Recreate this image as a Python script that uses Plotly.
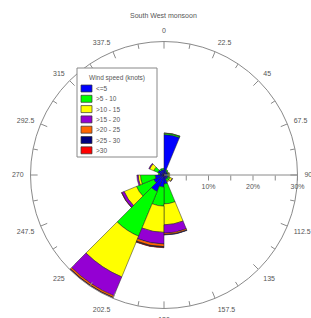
import plotly.graph_objects as go

# ---- data ----
title_text = "South West monsoon"
legend_title = "Wind speed (knots)"
speed_bins = ["<=5", ">5 - 10", ">10 - 15", ">15 - 20", ">20 - 25", ">25 - 30", ">30"]
bin_colors = ["#0000FF", "#00FF00", "#FFFF00", "#9400D3", "#FF6600", "#000080", "#FF0000"]
directions = [11.25 + 22.5 * k for k in range(16)]
# percentage frequency per direction, one list per speed class
pct_le5    = [9.1, 1.0, 0.8, 0.8, 0.8, 1.0, 1.0, 2.0, 2.7, 4.0, 2.5, 2.0, 1.0, 1.5, 1.2, 1.2]
pct_5_10   = [0.3, 0.3, 0.2, 0.3, 0.3, 0.5, 0.5, 4.5, 4.3, 10.9, 4.2, 3.3, 0.3, 1.0, 0.3, 0.3]
pct_10_15  = [0.05, 0.0, 0.1, 0.2, 0.2, 0.5, 0.2, 4.7, 5.9, 9.9, 3.0, 0.5, 0.0, 1.0, 0.0, 0.0]
pct_15_20  = [0.0, 0.0, 0.0, 0.0, 0.0, 0.1, 0.0, 1.9, 2.6, 4.6, 0.6, 0.3, 0.0, 0.2, 0.0, 0.0]
pct_20_25  = [0.0, 0.0, 0.0, 0.0, 0.0, 0.0, 0.0, 0.3, 0.6, 0.4, 0.05, 0.0, 0.0, 0.0, 0.0, 0.0]
pct_25_30  = [0.0, 0.0, 0.0, 0.0, 0.0, 0.0, 0.0, 0.1, 0.15, 0.1, 0.0, 0.0, 0.0, 0.0, 0.0, 0.0]
pct_gt30   = [0.0, 0.0, 0.0, 0.0, 0.0, 0.0, 0.0, 0.0, 0.1, 0.05, 0.0, 0.0, 0.0, 0.0, 0.0, 0.0]
series = [pct_le5, pct_5_10, pct_10_15, pct_15_20, pct_20_25, pct_25_30, pct_gt30]
angle_labels = ["0", "22.5", "45", "67.5", "90", "112.5", "135", "157.5",
                "180", "202.5", "225", "247.5", "270", "292.5", "315", "337.5"]
radial_ticks = [5, 10, 15, 20, 25, 30]
radial_labels = ["", "10%", "", "20%", "", "30%"]
r_max = 30

W, H = 311, 318
FONT = "Liberation Sans, Arial, sans-serif"
GRAY = "#8a8a8a"
TXT = "#555555"

fig = go.Figure()
for name, vals, col in zip(speed_bins, series, bin_colors):
    fig.add_trace(go.Barpolar(
        r=vals, theta=directions, width=[22.5] * len(directions), name=name,
        marker=dict(color=col, line=dict(color="#222222", width=0.5)),
        showlegend=False,
    ))

# inward angular ticks: long at labelled angles, short in between
tr, tt = [], []
for k in range(32):
    a = 11.25 * k
    ln = 1.6 if k % 2 == 0 else 1.1
    tr += [r_max - ln, r_max, None]
    tt += [a, a, None]
fig.add_trace(go.Scatterpolar(r=tr, theta=tt, mode="lines",
                              line=dict(color=GRAY, width=1),
                              showlegend=False, hoverinfo="skip"))

cx, cy, R = 164, 175, 133.5
fig.update_layout(
    width=W, height=H,
    margin=dict(l=0, r=0, t=0, b=0),
    paper_bgcolor="white",
    showlegend=False,
    font=dict(family=FONT, size=7, color=TXT),
    polar=dict(
        domain=dict(x=[(cx - R) / W, (cx + R) / W],
                    y=[(H - cy - R) / H, (H - cy + R) / H]),
        bgcolor="white",
        barmode="stack",
        angularaxis=dict(
            rotation=90, direction="clockwise",
            tickvals=[22.5 * k for k in range(16)], ticktext=angle_labels,
            ticks="outside", ticklen=5, tickcolor="rgba(0,0,0,0)",
            showline=True, linecolor=GRAY, linewidth=1,
            showgrid=False, tickfont=dict(size=7, color=TXT),
        ),
        radialaxis=dict(
            range=[0, r_max], angle=0, side="clockwise",
            tickvals=radial_ticks, ticktext=radial_labels,
            ticks="outside", ticklen=5, tickcolor=GRAY,
            showline=True, linecolor=GRAY, linewidth=1,
            showgrid=False, tickfont=dict(size=7, color=TXT),
        ),
    ),
)

# title
annotations = [dict(text=title_text, x=163 / W, y=1 - 16 / H, xref="paper", yref="paper",
                    showarrow=False, font=dict(size=7, color=TXT, family=FONT),
                    xanchor="center", yanchor="middle")]
shapes = []
# manual legend box
lx0, lx1, ly0, ly1 = 77, 157, 68, 157
shapes.append(dict(type="rect", xref="paper", yref="paper",
                   x0=lx0 / W, x1=lx1 / W, y0=1 - ly1 / H, y1=1 - ly0 / H,
                   fillcolor="white", line=dict(color="#888888", width=1), layer="above"))
annotations.append(dict(text=legend_title, x=(lx0 + lx1) / 2 / W, y=1 - 78 / H,
                        xref="paper", yref="paper", showarrow=False,
                        font=dict(size=6.5, color=TXT, family=FONT),
                        xanchor="center", yanchor="middle"))
for i, (name, col) in enumerate(zip(speed_bins, bin_colors)):
    yc = 88.5 + 10.3 * i
    shapes.append(dict(type="rect", xref="paper", yref="paper",
                       x0=81 / W, x1=92 / W, y0=1 - (yc + 3.5) / H, y1=1 - (yc - 3.5) / H,
                       fillcolor=col, line=dict(color="#333333", width=0.7), layer="above"))
    annotations.append(dict(text=name, x=94 / W, y=1 - yc / H, xref="paper", yref="paper",
                            showarrow=False, font=dict(size=6.5, color=TXT, family=FONT),
                            xanchor="left", yanchor="middle"))
fig.update_layout(shapes=shapes, annotations=annotations)

fig.write_html("out.html", config={"displayModeBar": False},
               post_script="document.body.style.margin='0';document.body.style.overflow='hidden';")
